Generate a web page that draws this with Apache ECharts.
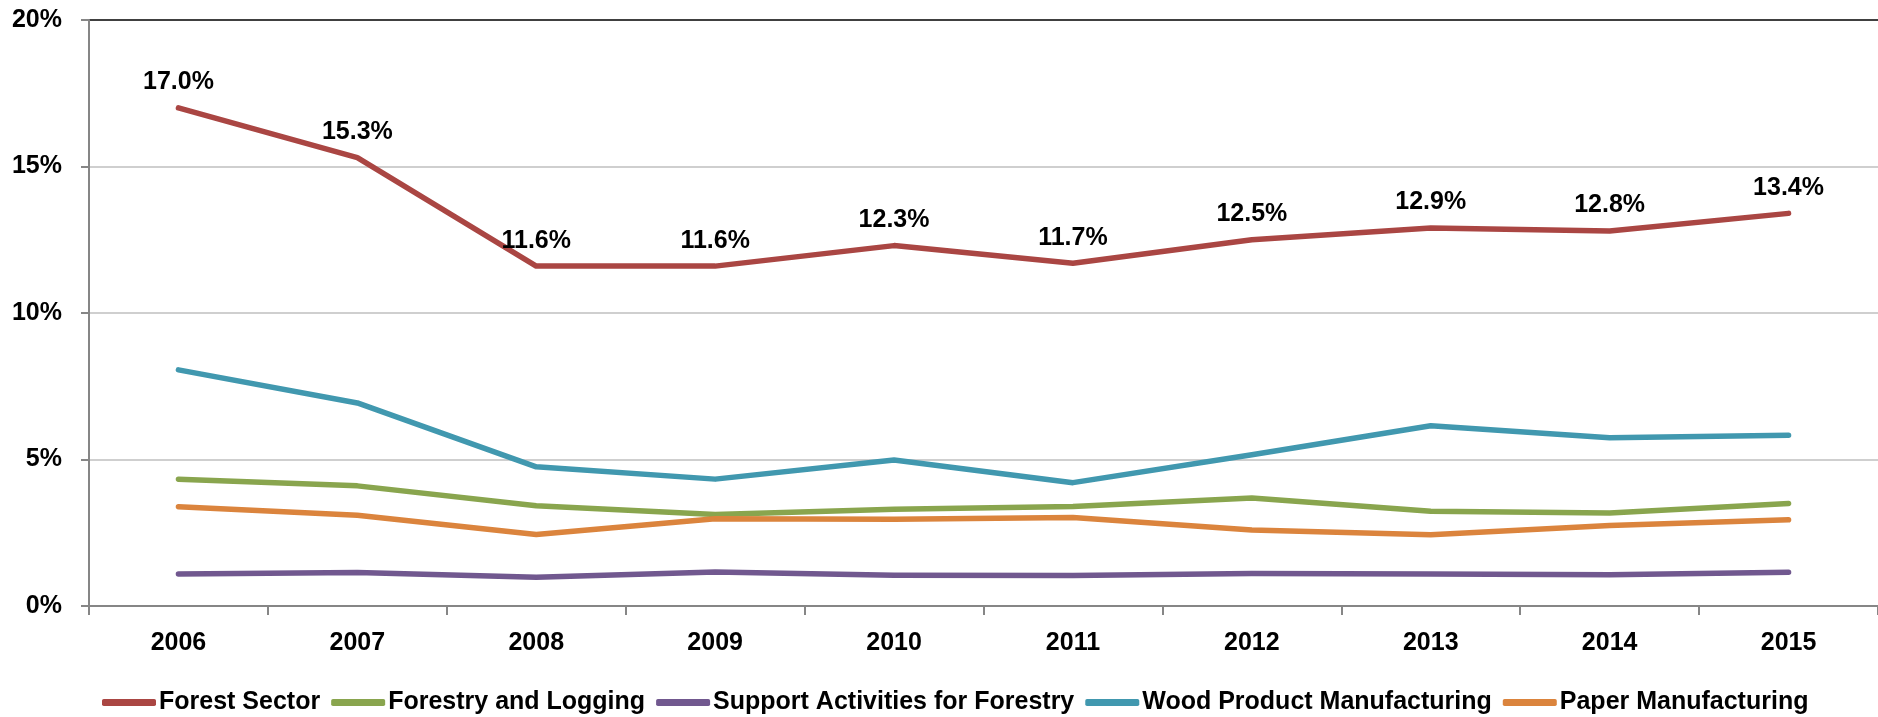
<!DOCTYPE html>
<html>
<head>
<meta charset="utf-8">
<script src="https://cdn.jsdelivr.net/npm/echarts@6/dist/echarts.min.js"></script>
<style>
html,body{margin:0;padding:0;background:#fff;}
#chart{width:1878px;height:717px;}
</style>
</head>
<body>
<div id="chart"></div>
<script>
const years = ['2006','2007','2008','2009','2010','2011','2012','2013','2014','2015'];
const forestSector = [17.0, 15.3, 11.6, 11.6, 12.3, 11.7, 12.5, 12.9, 12.8, 13.4];
const forestryLogging = [4.33, 4.10, 3.42, 3.12, 3.30, 3.40, 3.69, 3.23, 3.17, 3.50];
const supportActivities = [1.09, 1.14, 0.98, 1.16, 1.05, 1.04, 1.11, 1.09, 1.07, 1.15];
const woodProduct = [8.06, 6.93, 4.75, 4.33, 4.98, 4.21, 5.16, 6.15, 5.74, 5.83];
const paperManufacturing = [3.39, 3.10, 2.44, 2.98, 2.96, 3.02, 2.59, 2.43, 2.75, 2.94];
const yTicks = [0, 5, 10, 15, 20];

const FONT = 'Liberation Sans, Arial, sans-serif';
const chart = echarts.init(document.getElementById('chart'), null, {renderer: 'canvas'});

function mk(name, data, color, labels) {
  return {
    name: name,
    type: 'line',
    data: data,
    symbol: 'circle',
    symbolSize: 2,
    showSymbol: true,
    itemStyle: {color: color},
    lineStyle: {color: color, width: 5.5, cap: 'round', join: 'round'},
    emphasis: {disabled: true},
    label: labels ? {
      show: true,
      position: 'top',
      distance: 12,
      formatter: p => p.value.toFixed(1) + '%',
      color: '#000',
      fontFamily: FONT,
      fontWeight: 'bold',
      fontSize: 25
    } : {show: false},
    z: labels ? 5 : 3
  };
}

chart.setOption({
  animation: false,
  backgroundColor: '#fff',
  grid: {left: 89, right: -7, top: 20, bottom: 111, containLabel: false},
  legend: {
    left: 97,
    top: 685,
    icon: 'roundRect',
    itemWidth: 54,
    itemHeight: 7,
    itemGap: 11,
    textStyle: {fontFamily: FONT, fontWeight: 'bold', fontSize: 25, color: '#000', padding: [0,0,0,-2]},
    data: ['Forest Sector','Forestry and Logging','Support Activities for Forestry','Wood Product Manufacturing','Paper Manufacturing']
  },
  xAxis: {
    type: 'category',
    data: years,
    boundaryGap: true,
    axisLine: {lineStyle: {color: '#868686', width: 2}},
    axisTick: {show: true, length: 9, lineStyle: {color: '#868686', width: 2}},
    axisLabel: {margin: 25, color: '#000', fontFamily: FONT, fontWeight: 'bold', fontSize: 25}
  },
  yAxis: {
    type: 'value',
    min: yTicks[0],
    max: yTicks[yTicks.length - 1],
    interval: 5,
    axisLine: {show: true, lineStyle: {color: '#868686', width: 2}},
    axisTick: {show: true, length: 8, lineStyle: {color: '#868686', width: 2}},
    axisLabel: {margin: 27, color: '#000', fontFamily: FONT, fontWeight: 'bold', fontSize: 25, formatter: '{value}%'},
    splitLine: {show: true, lineStyle: {color: ['#bfbfbf','#bfbfbf','#bfbfbf','#bfbfbf','#000000'], width: 1.5}}
  },
  series: [
    mk('Forest Sector', forestSector, '#AA4643', true),
    mk('Forestry and Logging', forestryLogging, '#89A54E', false),
    mk('Support Activities for Forestry', supportActivities, '#71588F', false),
    mk('Wood Product Manufacturing', woodProduct, '#4198AF', false),
    mk('Paper Manufacturing', paperManufacturing, '#DB843D', false)
  ]
});
</script>
</body>
</html>
